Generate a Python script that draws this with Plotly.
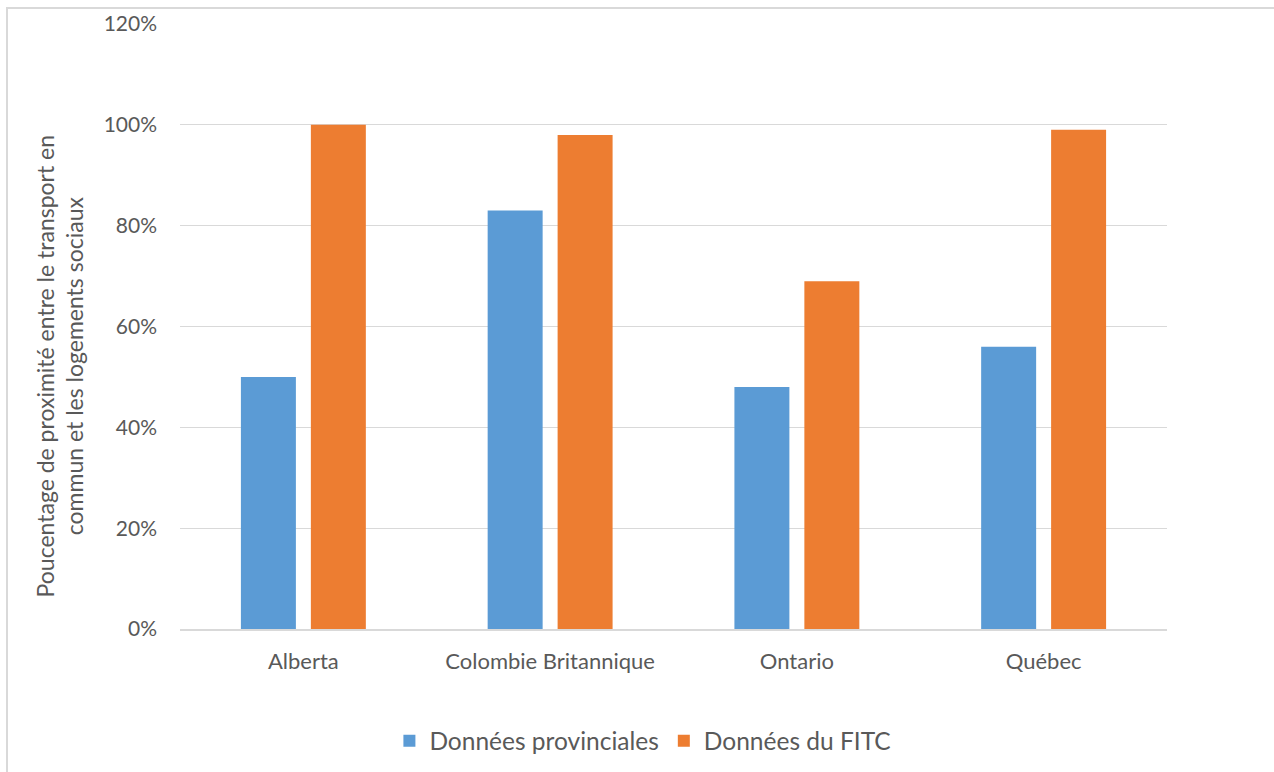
import plotly.graph_objects as go

provinces = ["Alberta", "Colombie Britannique", "Ontario", "Québec"]
donnees_provinciales = [50, 83, 48, 56]
donnees_fitc = [100, 98, 69, 99]
y_ticks = [0, 20, 40, 60, 80, 100, 120]
y_tick_labels = [f"{v}%" for v in y_ticks]

FONT = "Lato, 'Open Sans', sans-serif"
TEXT = "#595959"
GRID = "#D9D9D9"

fig = go.Figure()
fig.add_trace(go.Bar(name="Données provinciales", x=provinces, y=donnees_provinciales,
                     marker=dict(color="#5B9BD5", line=dict(width=0))))
fig.add_trace(go.Bar(name="Données du FITC", x=provinces, y=donnees_fitc,
                     marker=dict(color="#ED7D31", line=dict(width=0))))

fig.update_layout(
    width=1274, height=772,
    margin=dict(l=180, r=107, t=24, b=143, autoexpand=False),
    paper_bgcolor="white", plot_bgcolor="white",
    barmode="group", bargap=0.433, bargroupgap=0.214,
    font=dict(family=FONT, color=TEXT, size=22),
    showlegend=True,
    legend=dict(orientation="h", x=0.469, xanchor="center", y=-0.185, yanchor="middle",
                font=dict(size=24.5, color=TEXT), itemsizing="constant",
                traceorder="normal", itemwidth=30),
    xaxis=dict(showgrid=False, showline=True, linecolor=GRID, linewidth=1.5,
               ticks="", ticklabelstandoff=12, tickfont=dict(size=22)),
    yaxis=dict(range=[0, 120], tickvals=y_ticks, ticktext=y_tick_labels,
               showgrid=True, gridcolor=GRID, gridwidth=1.2, zeroline=False,
               showline=False, ticks="", ticklabelstandoff=22, tickfont=dict(size=21)),
    shapes=[dict(type="rect", xref="paper", yref="paper",
                 x0=-173 / 987, x1=1.2, y0=-0.5, y1=1 + 16 / 605,
                 line=dict(color=GRID, width=2), fillcolor="rgba(0,0,0,0)", layer="below")],
    annotations=[dict(text="Poucentage de proximité entre le transport en<br>commun et les logements sociaux",
                      xref="paper", yref="paper", x=-120 / 987, y=0.434, xanchor="center", yanchor="middle",
                      textangle=-90, showarrow=False, font=dict(size=23, color=TEXT))],
)

fig.write_html("out.html")
